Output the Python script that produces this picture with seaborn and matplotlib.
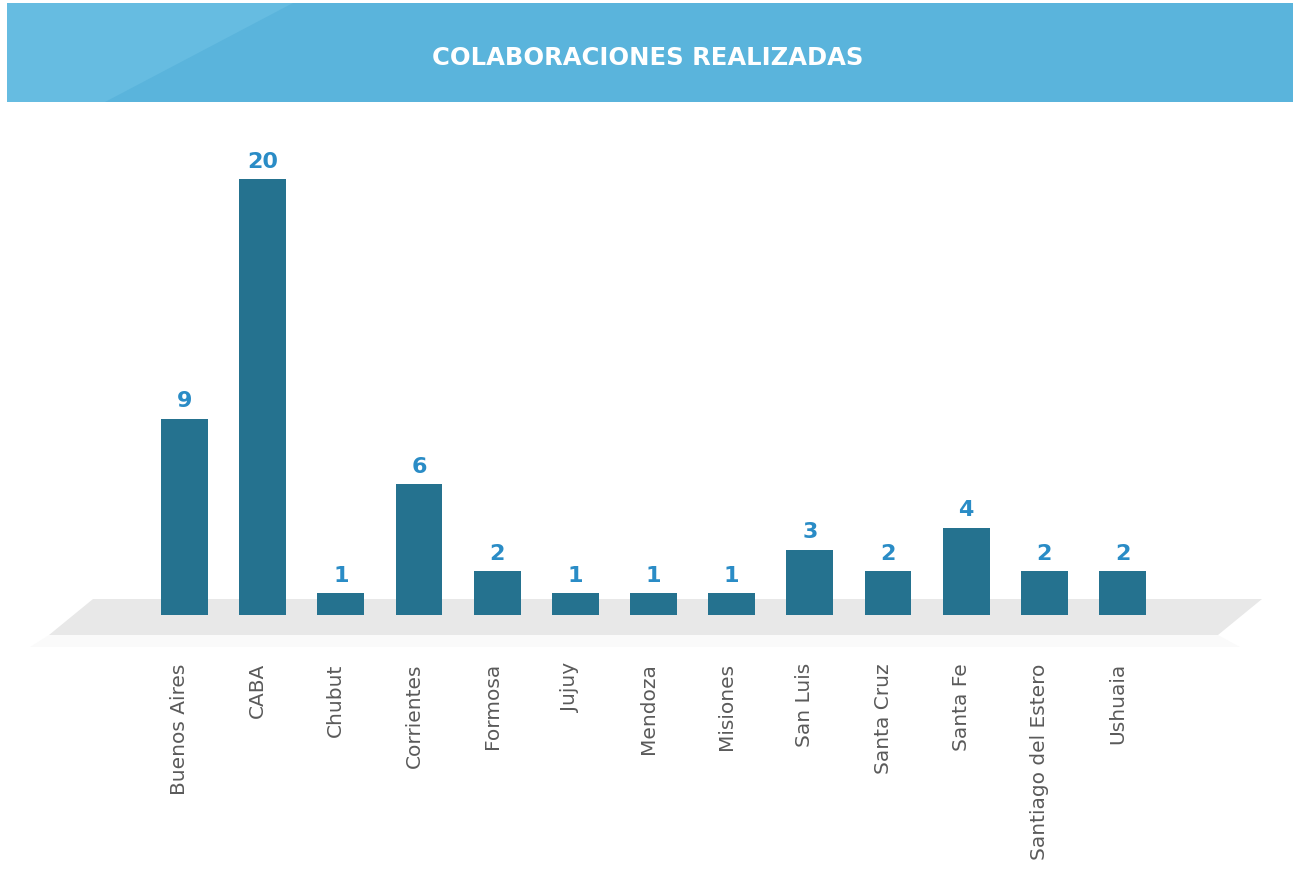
import matplotlib
matplotlib.use("Agg")
import matplotlib.pyplot as plt
import matplotlib.transforms as mtransforms
import seaborn as sns
import numpy as np
from matplotlib.patches import Polygon, Rectangle

provincias = ['Buenos Aires', 'CABA', 'Chubut', 'Corrientes', 'Formosa', 'Jujuy',
              'Mendoza', 'Misiones', 'San Luis', 'Santa Cruz', 'Santa Fe',
              'Santiago del Estero', 'Ushuaia']
colaboraciones = [9, 20, 1, 6, 2, 1, 1, 1, 3, 2, 4, 2, 2]
titulo = 'COLABORACIONES REALIZADAS'

sns.set_theme(style="white")
plt.rcParams['font.family'] = ['DejaVu Sans']

W, H = 1293, 870
fig = plt.figure(figsize=(W / 100, H / 100), dpi=100)

def px(x, y):
    # pixel coords (top-left origin) -> figure fraction
    return (x / W, 1 - y / H)

# header band
band = Rectangle(px(7, 103), (W - 7) / W, 99 / H, transform=fig.transFigure,
                 facecolor='#5ab4dc', edgecolor='none', zorder=0)
fig.add_artist(band)
light = Polygon([px(7, 4), px(293, 4), px(105, 103), px(7, 103)], closed=True,
                transform=fig.transFigure, facecolor='#66bce1', edgecolor='none', zorder=0.1)
fig.add_artist(light)
fig.text(648 / W, 1 - 58 / H, titulo, color='white', fontsize=17.5, fontweight='bold',
         ha='center', va='center')

# floor
floor = Polygon([px(93, 600), px(1262, 600), px(1218, 636), px(49, 636)], closed=True,
                transform=fig.transFigure, facecolor='#e8e8e8', edgecolor='none', zorder=0.2)
fig.add_artist(floor)
shadow = Polygon([px(49, 636), px(1218, 636), px(1240, 648), px(30, 648)], closed=True,
                 transform=fig.transFigure, facecolor='#fafafa', edgecolor='none', zorder=0.15)
fig.add_artist(shadow)

# axes: bottom at bar base (616px), top at 110px
ax = fig.add_axes([0, (H - 616) / H, 1, (616 - 110) / H])
ax.set_zorder(1)
ax.patch.set_visible(False)

sns.barplot(x=provincias, y=colaboraciones, color='#25728f', width=0.6,
            saturation=1, linewidth=0, ax=ax)

ax.set_xlim(-184.5 / 78.17, (W - 184.5) / 78.17)
ax.set_ylim(0, (616 - 110) / 21.8)

ax.bar_label(ax.containers[0], padding=6, color='#2a8cc6', fontsize=16,
             fontweight='bold')

ax.set_yticks([])
ax.tick_params(axis='x', length=0, pad=34, labelsize=14.5, labelcolor='#5a5a5a')
shift = mtransforms.ScaledTranslation(-5 / 100, 0, fig.dpi_scale_trans)
for lab in ax.get_xticklabels():
    lab.set_rotation(90)
    lab.set_ha('center')
    lab.set_va('top')
    lab.set_transform(lab.get_transform() + shift)
ax.set_xlabel('')
ax.set_ylabel('')
for s in ax.spines.values():
    s.set_visible(False)

fig.savefig('out.png', dpi=100)
